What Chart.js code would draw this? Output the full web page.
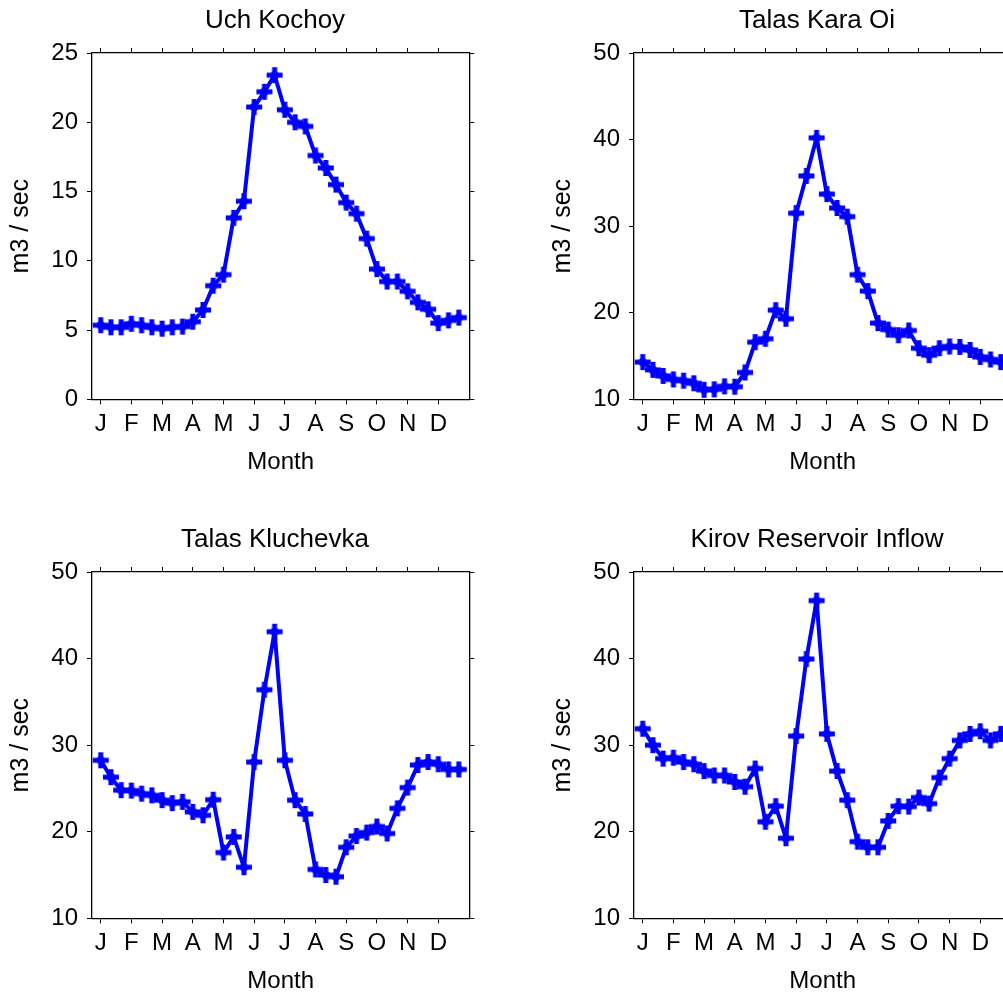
<!DOCTYPE html>
<html>
<head>
<meta charset="utf-8">
<script src="https://cdn.jsdelivr.net/npm/chart.js@4.4.1/dist/chart.umd.min.js"></script>
<style>
  html, body { margin: 0; padding: 0; background: #fff; overflow: hidden; width: 1003px; height: 995px; }
  .panel { position: absolute; width: 550px; height: 477px; }
  canvas { display: block; }
</style>
</head>
<body>
<div class="panel" style="left:0px;top:0px;"><canvas id="c1" width="550" height="477"></canvas></div>
<div class="panel" style="left:542px;top:0px;"><canvas id="c2" width="550" height="477"></canvas></div>
<div class="panel" style="left:0px;top:519px;"><canvas id="c3" width="550" height="477"></canvas></div>
<div class="panel" style="left:542px;top:519px;"><canvas id="c4" width="550" height="477"></canvas></div>
<script>
// ---- data ----
const monthLabels = ['J','F','M','A','M','J','J','A','S','O','N','D'];
const monthTickIndex = [0,3,6,9,12,15,18,21,24,27,30,33]; // first dekad of each month
const titles = ['Uch Kochoy', 'Talas Kara Oi', 'Talas Kluchevka', 'Kirov Reservoir Inflow'];

const uchKochoy = [5.35,5.2,5.2,5.45,5.35,5.2,5.1,5.2,5.25,5.6,6.45,8.2,9.0,13.1,14.3,21.1,22.2,23.4,
                   20.9,20.0,19.7,17.6,16.7,15.5,14.2,13.4,11.6,9.4,8.5,8.5,7.8,7.0,6.5,5.5,5.7,5.9];
const talasKaraOi = [14.3,13.4,12.7,12.3,12.15,11.85,11.1,11.15,11.5,11.45,13.1,16.6,17.0,20.3,19.3,31.5,35.8,40.2,
                     33.7,32.1,31.1,24.4,22.5,18.8,18.05,17.4,17.95,15.9,15.1,15.9,16.1,16.05,15.7,14.9,14.6,14.3];
const talasKluchevka = [28.25,26.3,24.8,24.75,24.4,24.2,23.65,23.3,23.45,22.3,21.9,23.7,17.6,19.4,15.9,28.05,36.4,43.1,
                        28.25,23.65,22.05,15.65,15.0,14.8,18.2,19.5,19.9,20.6,19.8,22.7,25.1,27.7,28.05,27.8,27.2,27.2];
const kirovInflow = [31.9,30.0,28.45,28.55,28.05,27.8,27.0,26.5,26.5,25.75,25.2,27.3,21.15,22.95,19.25,31.05,39.95,46.7,
                     31.3,27.0,23.65,18.85,18.2,18.2,21.25,22.95,22.9,23.95,23.25,26.25,28.45,30.55,31.3,31.6,30.55,31.3];

const yRanges = [[0,25,5],[10,50,10],[10,50,10],[10,50,10]];
const seriesList = [uchKochoy, talasKaraOi, talasKluchevka, kirovInflow];

// ---- layout constants (pixels inside each canvas) ----
const FONT = "'Liberation Sans', Arial, sans-serif";
const X_MIN = -0.85, X_MAX = 36.03;
const CANVAS_H = 477;
const LEFT_W = 92, RIGHT_W = 550 - 469.3, TOP_H = 16.8, BOTTOM_H = CANVAS_H - 399.3;

// custom marker: thick plus with a diamond centre
function makeMarker() {
  const s = 18, c = s / 2;
  const cv = document.createElement('canvas');
  cv.width = s; cv.height = s;
  const g = cv.getContext('2d');
  g.fillStyle = '#0000ff';
  g.fillRect(1, c - 2.5, s - 2, 5);        // horizontal arm
  g.fillRect(c - 2.5, 1, 5, s - 2);        // vertical arm
  g.beginPath();
  g.moveTo(c, c - 6); g.lineTo(c + 6, c); g.lineTo(c, c + 6); g.lineTo(c - 6, c);
  g.closePath(); g.fill();
  return cv;
}
const marker = makeMarker();

function setXTicks(scale) { scale.ticks = monthTickIndex.map(v => ({ value: v })); }

function makePanel(id, title, values, yr) {
  const [ymin, ymax, ystep] = yr;
  const common = {
    border: { display: true, color: '#000', width: 1.3 },
    grid: { drawOnChartArea: false, drawTicks: true, tickLength: 5, color: '#000', lineWidth: 1 }
  };
  new Chart(document.getElementById(id), {
    type: 'line',
    data: {
      datasets: [{
        data: values.map((v, i) => ({ x: i, y: v })),
        borderColor: '#0000ff',
        backgroundColor: '#0000ff',
        borderWidth: 4,
        borderJoinStyle: 'round',
        pointStyle: marker,
        pointRadius: 9,
        tension: 0,
        fill: false
      }]
    },
    options: {
      responsive: false,
      animation: false,
      events: [],
      layout: { padding: 0, autoPadding: false },
      plugins: {
        legend: { display: false },
        tooltip: { enabled: false },
        title: {
          display: true, text: title, color: '#000',
          font: { family: FONT, size: 26, weight: 'normal', lineHeight: 1.2 },
          padding: { top: 5, bottom: 0 }
        }
      },
      scales: {
        x: Object.assign({}, common, {
          type: 'linear', position: 'bottom', min: X_MIN, max: X_MAX,
          afterBuildTicks: setXTicks,
          afterFit: s => { s.height = BOTTOM_H; },
          ticks: {
            color: '#000', font: { family: FONT, size: 24 }, padding: 6,
            autoSkip: false, maxRotation: 0, minRotation: 0,
            callback: (v) => monthLabels[monthTickIndex.indexOf(v)] ?? ''
          },
          title: { display: true, text: 'Month', color: '#000',
                   font: { family: FONT, size: 24, lineHeight: 1.2 }, padding: 0 }
        }),
        xTop: Object.assign({}, common, {
          type: 'linear', position: 'top', min: X_MIN, max: X_MAX,
          afterBuildTicks: setXTicks,
          afterFit: s => { s.height = TOP_H; },
          ticks: { display: false }
        }),
        y: Object.assign({}, common, {
          type: 'linear', position: 'left', min: ymin, max: ymax,
          afterFit: s => { s.width = LEFT_W; },
          ticks: { stepSize: ystep, color: '#000', font: { family: FONT, size: 24 }, padding: 9 },
          title: { display: true, text: 'm3 / sec', color: '#000',
                   font: { family: FONT, size: 25, lineHeight: 1.2 }, padding: { top: 6, bottom: 0 } }
        }),
        yRight: Object.assign({}, common, {
          type: 'linear', position: 'right', min: ymin, max: ymax,
          afterFit: s => { s.width = RIGHT_W; },
          ticks: { stepSize: ystep, display: false }
        })
      }
    }
  });
}

['c1','c2','c3','c4'].forEach((id, k) => makePanel(id, titles[k], seriesList[k], yRanges[k]));
</script>
</body>
</html>
